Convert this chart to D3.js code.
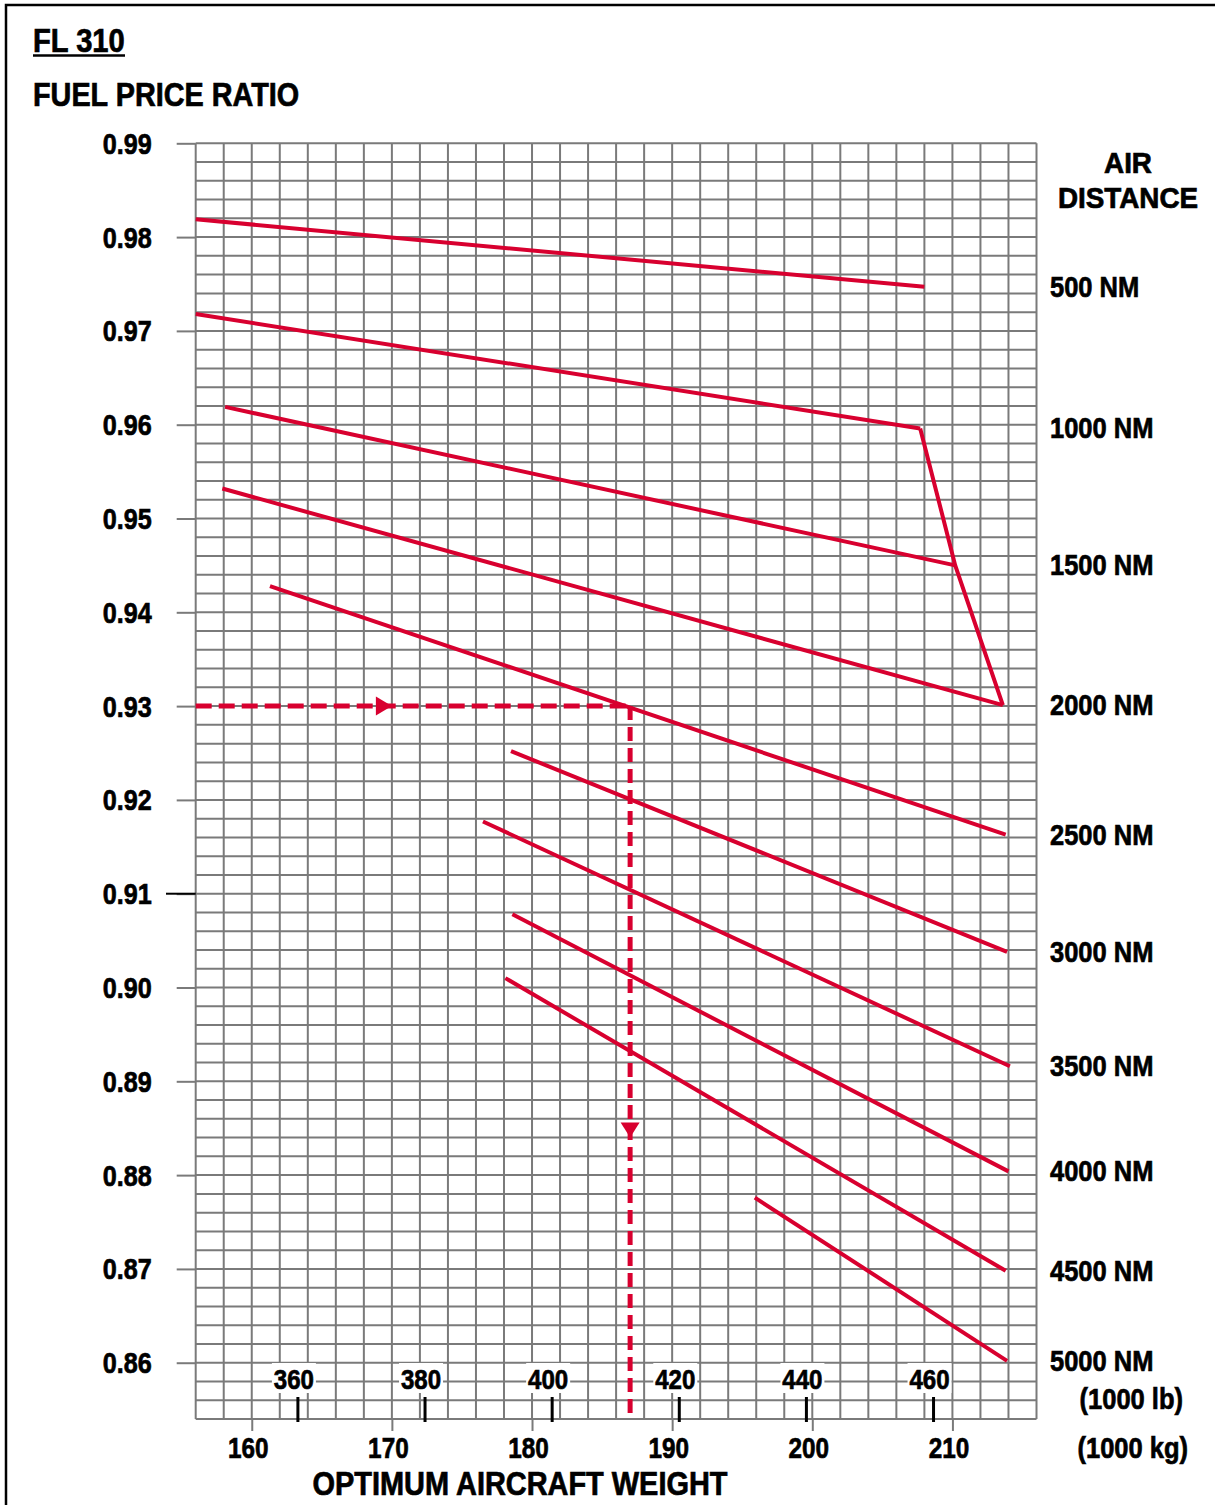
<!DOCTYPE html>
<html>
<head>
<meta charset="utf-8">
<script src="https://cdn.jsdelivr.net/npm/d3@7"></script>
<style>
  html, body { margin: 0; padding: 0; background: #fff; }
  svg text { font-family: "Liberation Sans", Arial, sans-serif; font-weight: bold; fill: #000; stroke: #000; stroke-width: 0.7px; }
</style>
</head>
<body>
<svg id="chart"></svg>
<script>
// air distance curves (weight in 1000 kg, fuel price ratio)
const distances = ["500 NM", "1000 NM", "1500 NM", "2000 NM", "2500 NM",
                   "3000 NM", "3500 NM", "4000 NM", "4500 NM", "5000 NM"];
const startKg    = [156, 156, 158.1, 157.9, 161.3, 178.5, 176.5, 178.6, 178.1, 195.9];
const startRatio = [0.9819, 0.9718, 0.9619, 0.9532, 0.9428, 0.9252, 0.9177, 0.9078, 0.9010, 0.8776];
const endKg      = [208.0, 207.7, 210.2, 213.6, 213.8, 213.9, 214.1, 214.0, 213.8, 213.9];
const endRatio   = [0.9747, 0.9596, 0.9450, 0.9301, 0.9163, 0.9038, 0.8916, 0.8804, 0.8698, 0.8602];

// weight limit line joining the 1000 / 1500 / 2000 NM ends
const limitKg    = [207.7, 210.2, 213.6];
const limitRatio = [0.9596, 0.9450, 0.9301];

// worked example
const exampleRatio = 0.93;
const exampleKg = 187;
const arrowKg = 170;      // arrow on horizontal leg
const arrowRatio = 0.884; // arrow on vertical leg

// axes
const kgTicks = [160, 170, 180, 190, 200, 210];
const lbTicks = [360, 380, 400, 420, 440, 460];
const ratioTicks = [0.86, 0.87, 0.88, 0.89, 0.90, 0.91, 0.92, 0.93, 0.94, 0.95, 0.96, 0.97, 0.98, 0.99];
const markedRatio = 0.91;
const kgDomain = [156, 216];
const ratioDomain = [0.854, 0.99];
const LB_TO_KG = 0.45359237;

const width = 1215, height = 1505;
const red = "#d8002f";
const gridColor = "#7a7a7a";

const svg = d3.select("#chart")
    .attr("width", width)
    .attr("height", height);

const x = d3.scaleLinear().domain(kgDomain).range([195.7, 1036.5]);
const y = d3.scaleLinear().domain(ratioDomain).range([1419, 143.3]);

// text helper: squeezed bold text, like the condensed font of the original
function label(g, tx, ty, str, size, anchor, sx) {
    return g.append("text")
        .attr("transform", `translate(${tx},${ty}) scale(${sx},1)`)
        .attr("text-anchor", anchor)
        .style("font-size", size + "px")
        .text(str);
}

// frame
svg.append("rect")
    .attr("x", 6).attr("y", 5)
    .attr("width", 1400).attr("height", 1700)
    .attr("fill", "none")
    .attr("stroke", "#000")
    .attr("stroke-width", 2.5);

// grid
const grid = svg.append("g");
const vLines = d3.range(kgDomain[0], kgDomain[1] + 1, 2);
const hLines = d3.range(0, 69).map(i => +(ratioDomain[0] + i * 0.002).toFixed(3));

grid.selectAll(".v").data(vLines).enter().append("line")
    .attr("x1", d => x(d)).attr("x2", d => x(d))
    .attr("y1", y(ratioDomain[1])).attr("y2", y(ratioDomain[0]))
    .attr("stroke", gridColor).attr("stroke-width", 2);

grid.selectAll(".h").data(hLines).enter().append("line")
    .attr("x1", x(kgDomain[0])).attr("x2", x(kgDomain[1]))
    .attr("y1", d => y(d)).attr("y2", d => y(d))
    .attr("stroke", gridColor).attr("stroke-width", 2);

// y axis - fuel price ratio
const yAxisGroup = svg.append("g")
    .attr("transform", `translate(${x(kgDomain[0])},0)`)
    .call(d3.axisLeft(y).tickValues(ratioTicks).tickSize(19).tickFormat(d3.format(".2f")));

yAxisGroup.select(".domain").remove();
yAxisGroup.selectAll("line")
    .attr("stroke", gridColor)
    .attr("stroke-width", 2);
yAxisGroup.selectAll("text")
    .attr("x", null).attr("dy", null)
    .attr("transform", "translate(-44,10) scale(0.84,1)")
    .attr("text-anchor", "end")
    .style("font-size", "30px")
    .attr("fill", "#000");

svg.append("line")
    .attr("x1", 166).attr("x2", x(kgDomain[0]))
    .attr("y1", y(markedRatio)).attr("y2", y(markedRatio))
    .attr("stroke", "#000").attr("stroke-width", 2);

// x axis - weight (1000 kg)
const xAxisGroup = svg.append("g")
    .attr("transform", `translate(0,${y(ratioDomain[0])})`)
    .call(d3.axisBottom(x).tickValues(kgTicks).tickSize(12));

xAxisGroup.select(".domain").remove();
xAxisGroup.selectAll("line")
    .attr("stroke", gridColor)
    .attr("stroke-width", 2);
xAxisGroup.selectAll("text")
    .attr("y", null).attr("dy", null)
    .attr("transform", "translate(-4,39) scale(0.81,1)")
    .attr("text-anchor", "middle")
    .style("font-size", "30px")
    .attr("fill", "#000");

// second scale - weight (1000 lb)
const xLb = d => x(d * LB_TO_KG);
const lbGroup = svg.append("g");
const lbTick = lbGroup.selectAll("g").data(lbTicks).enter().append("g")
    .attr("transform", d => `translate(${xLb(d)},0)`);

lbTick.append("rect")
    .attr("x", -26).attr("y", 1363)
    .attr("width", 44).attr("height", 30)
    .attr("fill", "#fff");
lbTick.append("line")
    .attr("x1", 0).attr("x2", 0)
    .attr("y1", 1397).attr("y2", 1422)
    .attr("stroke", "#000").attr("stroke-width", 3);
lbTick.each(function(d) {
    label(d3.select(this), -4, 1389, d, 28, "middle", 0.86);
});

// curves
const line = d3.line().x(d => x(d[0])).y(d => y(d[1]));
const curves = distances.map((name, i) => ({
    name: name,
    pts: [[startKg[i], startRatio[i]], [endKg[i], endRatio[i]]]
}));

svg.append("g").selectAll("path").data(curves).enter().append("path")
    .attr("d", d => line(d.pts))
    .attr("fill", "none")
    .attr("stroke", red)
    .attr("stroke-width", 4);

svg.append("path")
    .attr("d", line(limitKg.map((k, i) => [k, limitRatio[i]])))
    .attr("fill", "none")
    .attr("stroke", red)
    .attr("stroke-width", 4)
    .attr("stroke-linejoin", "miter");

// worked example (dashed)
const ex = svg.append("g");
ex.append("line")
    .attr("x1", x(kgDomain[0])).attr("x2", x(exampleKg))
    .attr("y1", y(exampleRatio)).attr("y2", y(exampleRatio))
    .attr("stroke", red).attr("stroke-width", 5)
    .attr("stroke-dasharray", "16,7");
ex.append("line")
    .attr("x1", x(exampleKg)).attr("x2", x(exampleKg))
    .attr("y1", y(exampleRatio)).attr("y2", y(ratioDomain[0]))
    .attr("stroke", red).attr("stroke-width", 5)
    .attr("stroke-dasharray", "14,7");

// arrow heads
const ax = x(arrowKg), ay = y(exampleRatio);
ex.append("path")
    .attr("d", `M${ax},${ay} L${ax - 16},${ay - 9.5} L${ax - 16},${ay + 9.5} Z`)
    .attr("fill", red);
const bx = x(exampleKg), by = y(arrowRatio);
ex.append("path")
    .attr("d", `M${bx},${by} L${bx - 9.5},${by - 15} L${bx + 9.5},${by - 15} Z`)
    .attr("fill", red);

// right labels
const right = svg.append("g");
curves.forEach((c, i) => {
    label(right, 1050, y(endRatio[i]) + 10, c.name, 30, "start", 0.85);
});
label(right, 1128, 173, "AIR", 29, "middle", 0.96);
label(right, 1128, 208, "DISTANCE", 29, "middle", 0.96);
label(right, 1183, 1409, "(1000 lb)", 30, "end", 0.85);
label(right, 1188, 1458, "(1000 kg)", 30, "end", 0.85);

// titles
label(svg, 33, 52, "FL 310", 33.5, "start", 0.87);
svg.append("line")
    .attr("x1", 33).attr("x2", 125)
    .attr("y1", 55.5).attr("y2", 55.5)
    .attr("stroke", "#000").attr("stroke-width", 2.5);
label(svg, 33, 106, "FUEL PRICE RATIO", 33.5, "start", 0.86);
label(svg, 520, 1495, "OPTIMUM AIRCRAFT WEIGHT", 32.5, "middle", 0.89);
</script>
</body>
</html>
